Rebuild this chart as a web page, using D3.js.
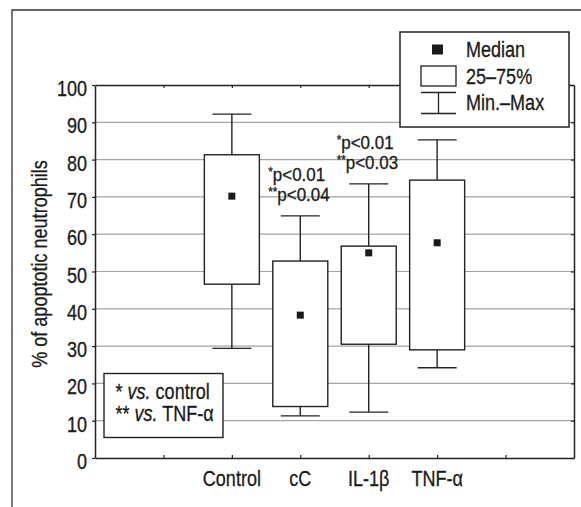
<!DOCTYPE html>
<html>
<head>
<meta charset="utf-8">
<script src="https://cdn.jsdelivr.net/npm/d3@7"></script>
<style>
  html, body { margin: 0; padding: 0; background: #fff; }
  svg { display: block; }
  text { font-family: "Liberation Sans", Arial, sans-serif; fill: #1a1a1a; stroke: #1a1a1a; stroke-width: 0.3; }
</style>
</head>
<body>
<svg id="chart" width="581" height="507"></svg>
<script>
// ---- data ----
const categories = ["Control", "cC", "IL-1β", "TNF-α"];
const minValues    = [29.4, 11.3, 12.3, 24.2];
const q1Values     = [46.6, 13.8, 30.5, 29.0];
const medianValues = [70.2, 38.3, 55.0, 57.7];
const q3Values     = [81.3, 52.8, 56.8, 74.5];
const maxValues    = [92.2, 64.9, 73.5, 85.3];
const yTicks = [0, 10, 20, 30, 40, 50, 60, 70, 80, 90, 100];
const annotationCats  = ["cC", "IL-1β"];
const annotationLine1 = ["p<0.01", "p<0.01"];
const annotationLine2 = ["p<0.04", "p<0.03"];
const legendLabels = ["Median", "25–75%", "Min.–Max"];
const yTitle = "% of apoptotic neutrophils";

// ---- layout ----
const svg = d3.select("#chart");
const pLeft = 95, pRight = 574, pTop = 85, pBottom = 458;
const dark = "#222";
const NARROW = 0.82;   // emulate a condensed face by horizontal scaling

// condensed text helper: returns a <text> placed at (x, y)
function condText(parent, x, y, size, anchor, extra, sx) {
  const g = parent.append("g")
    .attr("transform", `translate(${x},${y}) ${extra || ""} scale(${sx || NARROW},1)`);
  return g.append("text").attr("x", 0).attr("y", 0)
    .attr("font-size", size).attr("text-anchor", anchor || "start");
}

const x = d3.scaleLinear().domain([-2, 5]).range([pLeft, pRight]);
const y = d3.scaleLinear().domain([0, 100]).range([pBottom, pTop]);
const xIdx = c => x(categories.indexOf(c));

// outer frame (left + top)
svg.append("path")
  .attr("d", "M12,507 L12,10 L581,10")
  .attr("fill", "none").attr("stroke", "#333").attr("stroke-width", 1.3);

// gridlines
svg.append("g").selectAll("line")
  .data(yTicks.filter(t => t > 0 && t < 100))
  .join("line")
  .attr("x1", pLeft).attr("x2", pRight)
  .attr("y1", d => y(d)).attr("y2", d => y(d))
  .attr("stroke", "#a3a3a3").attr("stroke-width", 1.2);

// axes
const xTickVals = d3.range(-1, 5);
const axisStyle = g => {
  g.selectAll(".domain").attr("stroke", dark).attr("stroke-width", 1.5);
  g.selectAll(".tick line").attr("stroke", dark).attr("stroke-width", 1.2);
};
svg.append("g").attr("transform", `translate(0,${pBottom})`)
  .call(d3.axisBottom(x).tickValues(xTickVals).tickSize(-3).tickSizeOuter(0).tickFormat(""))
  .call(axisStyle);
svg.append("g").attr("transform", `translate(0,${pTop})`)
  .call(d3.axisTop(x).tickValues(xTickVals).tickSize(-3).tickSizeOuter(0).tickFormat(""))
  .call(axisStyle);
svg.append("g").attr("transform", `translate(${pLeft},0)`)
  .call(d3.axisLeft(y).tickValues(yTicks).tickSize(3).tickSizeOuter(0).tickFormat(""))
  .call(axisStyle);
svg.append("g").attr("transform", `translate(${pRight},0)`)
  .call(d3.axisRight(y).tickValues(yTicks).tickSize(-3).tickSizeOuter(0).tickFormat(""))
  .call(axisStyle);

// y tick labels
const yLab = svg.append("g");
yTicks.forEach(t => condText(yLab, 87, y(t) + 11, 22, "end").text(t));

// x category labels
const xLab = svg.append("g");
categories.forEach(c => condText(xLab, xIdx(c), pBottom + 27.5, 22, "middle").text(c));

// y title
condText(svg, 47, 264, 22, "middle", "rotate(-90)").text(yTitle);

// boxes
const boxHalf = 27.5, capHalf = 19.5, medSize = 7;
const boxes = svg.append("g").selectAll("g")
  .data(categories.map((c, i) => ({ c, min: minValues[i], q1: q1Values[i], med: medianValues[i], q3: q3Values[i], max: maxValues[i] })))
  .join("g");
boxes.append("line")
  .attr("x1", d => xIdx(d.c)).attr("x2", d => xIdx(d.c))
  .attr("y1", d => y(d.max)).attr("y2", d => y(d.min))
  .attr("stroke", dark).attr("stroke-width", 1.4);
boxes.append("line")
  .attr("x1", d => xIdx(d.c) - capHalf).attr("x2", d => xIdx(d.c) + capHalf)
  .attr("y1", d => y(d.max)).attr("y2", d => y(d.max))
  .attr("stroke", dark).attr("stroke-width", 1.4);
boxes.append("line")
  .attr("x1", d => xIdx(d.c) - capHalf).attr("x2", d => xIdx(d.c) + capHalf)
  .attr("y1", d => y(d.min)).attr("y2", d => y(d.min))
  .attr("stroke", dark).attr("stroke-width", 1.4);
boxes.append("rect")
  .attr("x", d => xIdx(d.c) - boxHalf).attr("width", 2 * boxHalf)
  .attr("y", d => y(d.q3)).attr("height", d => y(d.q1) - y(d.q3))
  .attr("fill", "#fff").attr("stroke", dark).attr("stroke-width", 1.4);
boxes.append("rect")
  .attr("x", d => xIdx(d.c) - medSize / 2).attr("width", medSize)
  .attr("y", d => y(d.med) - medSize / 2).attr("height", medSize)
  .attr("fill", "#1a1a1a");

// significance annotations
annotationCats.forEach((c, i) => {
  const cx = xIdx(c) - 32;
  const base2 = y(maxValues[categories.indexOf(c)]) - 14.5;
  const t1 = condText(svg, cx, base2 - 20, 17.5, "start", "", 0.97);
  t1.append("tspan").attr("font-size", 12).attr("dy", -5).text("*");
  t1.append("tspan").attr("dy", 5).text(annotationLine1[i]);
  const t2 = condText(svg, cx, base2, 17.5, "start", "", 0.97);
  t2.append("tspan").attr("font-size", 12).attr("dy", -5).text("**");
  t2.append("tspan").attr("dy", 5).text(annotationLine2[i]);
});

// note box
svg.append("rect").attr("x", 104).attr("y", 373.5).attr("width", 119).attr("height", 64)
  .attr("fill", "#fff").attr("stroke", dark).attr("stroke-width", 1.4);
const n1 = condText(svg, 115.5, 398.5, 22);
n1.append("tspan").text("* ");
n1.append("tspan").attr("font-style", "italic").text("vs.");
n1.append("tspan").text(" control");
const n2 = condText(svg, 115.5, 420.5, 22);
n2.append("tspan").text("** ");
n2.append("tspan").attr("font-style", "italic").text("vs.");
n2.append("tspan").text(" TNF-α");

// legend
const lg = svg.append("g");
lg.append("rect").attr("x", 400).attr("y", 32).attr("width", 169).attr("height", 95)
  .attr("fill", "#fff").attr("stroke", dark).attr("stroke-width", 1.5);
lg.append("rect").attr("x", 432).attr("y", 44.5).attr("width", 11).attr("height", 10).attr("fill", "#1a1a1a");
lg.append("rect").attr("x", 421).attr("y", 66).attr("width", 35).attr("height", 20)
  .attr("fill", "#fff").attr("stroke", dark).attr("stroke-width", 1.3);
lg.append("line").attr("x1", 421).attr("x2", 456).attr("y1", 92.5).attr("y2", 92.5).attr("stroke", dark).attr("stroke-width", 1.3);
lg.append("line").attr("x1", 421).attr("x2", 456).attr("y1", 113.5).attr("y2", 113.5).attr("stroke", dark).attr("stroke-width", 1.3);
lg.append("line").attr("x1", 438.5).attr("x2", 438.5).attr("y1", 92.5).attr("y2", 113.5).attr("stroke", dark).attr("stroke-width", 1.3);
legendLabels.forEach((d, i) => condText(lg, 466, [57, 84, 110][i], 22).text(d));
</script>
</body>
</html>
